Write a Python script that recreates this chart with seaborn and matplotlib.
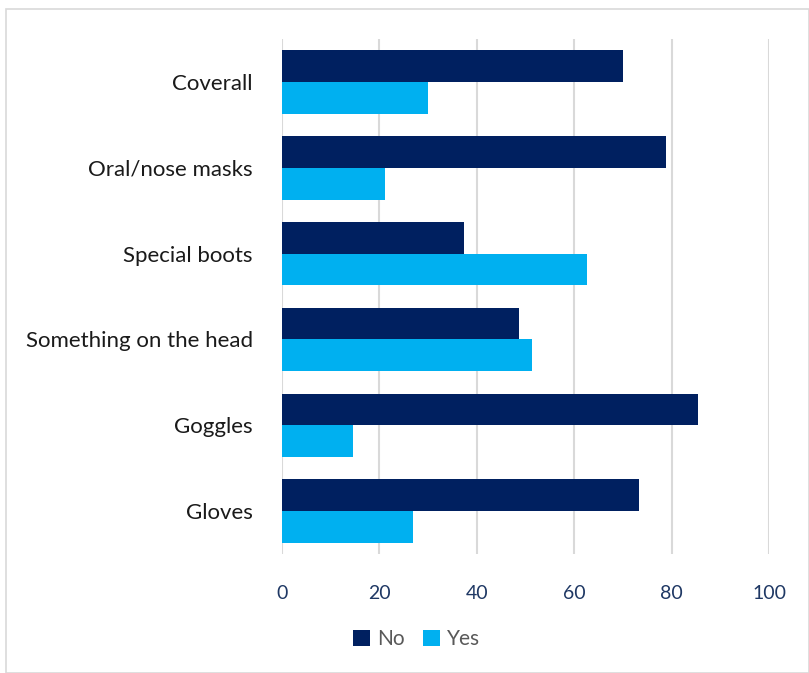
import matplotlib
matplotlib.use("Agg")
import matplotlib.pyplot as plt
import seaborn as sns
import pandas as pd
from matplotlib.patches import Rectangle

categories = ["Coverall", "Oral/nose masks", "Special boots", "Something on the head", "Goggles", "Gloves"]
no_values = [70.0, 78.8, 37.3, 48.6, 85.4, 73.2]
yes_values = [30.0, 21.2, 62.7, 51.4, 14.6, 26.8]
series = ["No", "Yes"]
x_ticks = [0, 20, 40, 60, 80, 100]

df = pd.DataFrame({
    "category": categories * 2,
    "value": no_values + yes_values,
    "answer": ["No"] * len(categories) + ["Yes"] * len(categories),
})

sns.set_theme(style="white")
plt.rcParams["font.family"] = ["Lato", "DejaVu Sans"]

fig = plt.figure(figsize=(8.09, 6.73), dpi=100)
ax = fig.add_axes([0.3486, 0.1768, 0.602, 0.765])

sns.barplot(data=df, y="category", x="value", hue="answer", order=categories,
            hue_order=series, palette={"No": "#002060", "Yes": "#00B0F0"},
            orient="h", width=0.74, ax=ax, saturation=1, legend=True, linewidth=0)

ax.set_xlim(0, 100)
ax.set_xticks(x_ticks)
ax.set_xticklabels([str(t) for t in x_ticks], fontsize=14, color="#1F3864")
ax.tick_params(axis="x", length=0, pad=22)
ax.tick_params(axis="y", length=0, pad=21, labelsize=16, labelcolor="#1a1a1a")
ax.set_xlabel("")
ax.set_ylabel("")
ax.grid(axis="x", color="#D9D9D9", linewidth=1.5)
ax.set_axisbelow(True)
for s in ax.spines.values():
    s.set_visible(False)

leg = ax.get_legend()
handles, labels = ax.get_legend_handles_labels()
leg.remove()
fig.legend(handles, labels, loc="center", bbox_to_anchor=(0.515, 0.05), ncol=2, frameon=False,
           fontsize=15, labelcolor="#595959", handlelength=0.8, handleheight=0.8,
           handletextpad=0.35, columnspacing=0.9)

fig.patches.append(Rectangle((6 / 809, 0), 1 - 6 / 809, 1 - 9 / 673, transform=fig.transFigure,
                             fill=False, edgecolor="#D9D9D9", linewidth=1.2))

fig.savefig("out.png", dpi=100)
